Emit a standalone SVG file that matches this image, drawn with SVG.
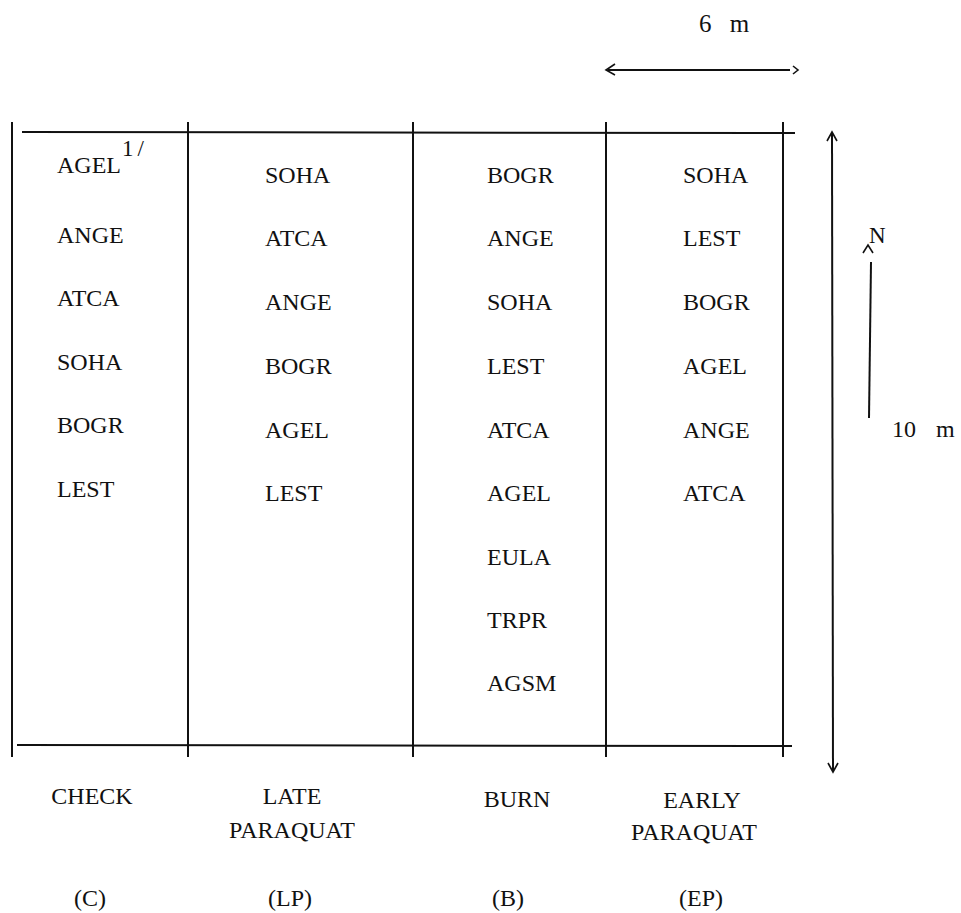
<svg xmlns="http://www.w3.org/2000/svg" width="961" height="913" viewBox="0 0 961 913">
<style>
text{font-family:"Liberation Serif","Times New Roman",serif;font-size:24px;fill:#111}
.c{text-anchor:middle}
.ln{stroke:#111;stroke-width:2;fill:none}
.hd{stroke:#111;stroke-width:1.6;fill:none}
.sup{font-size:23px;letter-spacing:4px}
</style>
<rect width="961" height="913" fill="#fff"/>
<g id="grid">
<line class="ln" x1="22" y1="132" x2="795" y2="133"/>
<line class="ln" x1="17" y1="745" x2="792" y2="746"/>
<line class="ln" x1="12" y1="122" x2="12" y2="757"/>
<line class="ln" x1="188" y1="122" x2="188" y2="757"/>
<line class="ln" x1="413" y1="122" x2="413" y2="757"/>
<line class="ln" x1="606" y1="122" x2="606" y2="757"/>
<line class="ln" x1="783" y1="122" x2="783" y2="757"/>
</g>
<g id="col-check">
<text x="57" y="173">AGEL</text>
<text x="122" y="156" class="sup">1/</text>
<text x="57" y="243">ANGE</text>
<text x="57" y="306">ATCA</text>
<text x="57" y="370">SOHA</text>
<text x="57" y="433">BOGR</text>
<text x="57" y="497">LEST</text>
<text x="92" y="804" class="c">CHECK</text>
<text x="90" y="906" class="c">(C)</text>
</g>
<g id="col-lp">
<text x="265" y="183">SOHA</text>
<text x="265" y="246">ATCA</text>
<text x="265" y="310">ANGE</text>
<text x="265" y="374">BOGR</text>
<text x="265" y="438">AGEL</text>
<text x="265" y="501">LEST</text>
<text x="292" y="804" class="c">LATE</text>
<text x="292" y="838" class="c">PARAQUAT</text>
<text x="290" y="906" class="c">(LP)</text>
</g>
<g id="col-b">
<text x="487" y="183">BOGR</text>
<text x="487" y="246">ANGE</text>
<text x="487" y="310">SOHA</text>
<text x="487" y="374">LEST</text>
<text x="487" y="438">ATCA</text>
<text x="487" y="501">AGEL</text>
<text x="487" y="565">EULA</text>
<text x="487" y="628">TRPR</text>
<text x="487" y="691">AGSM</text>
<text x="517" y="807" class="c">BURN</text>
<text x="508" y="906" class="c">(B)</text>
</g>
<g id="col-ep">
<text x="683" y="183">SOHA</text>
<text x="683" y="246">LEST</text>
<text x="683" y="310">BOGR</text>
<text x="683" y="374">AGEL</text>
<text x="683" y="438">ANGE</text>
<text x="683" y="501">ATCA</text>
<text x="702" y="808" class="c">EARLY</text>
<text x="694" y="840" class="c">PARAQUAT</text>
<text x="701" y="906" class="c">(EP)</text>
</g>
<g id="scale-6m">
<text x="699" y="32" style="font-size:25px" word-spacing="12">6 m</text>
<line class="ln" x1="608" y1="70" x2="790" y2="70"/>
<polyline class="hd" points="615,64 606,70 615,75"/>
<polyline class="hd" points="793,66 798,70 793,74"/>
</g>
<g id="scale-10m">
<line class="ln" x1="832" y1="133" x2="833" y2="770"/>
<polyline class="hd" points="827,141 832,132 837,141"/>
<polyline class="hd" points="828,763 833,772 838,763"/>
<text x="892" y="437" word-spacing="14">10 m</text>
</g>
<g id="north">
<polyline class="hd" points="863,253 868,245 873,253"/>
<text x="869" y="243" style="font-size:23px">N</text>
<line class="ln" x1="871" y1="262" x2="869" y2="418"/>
</g>
</svg>
